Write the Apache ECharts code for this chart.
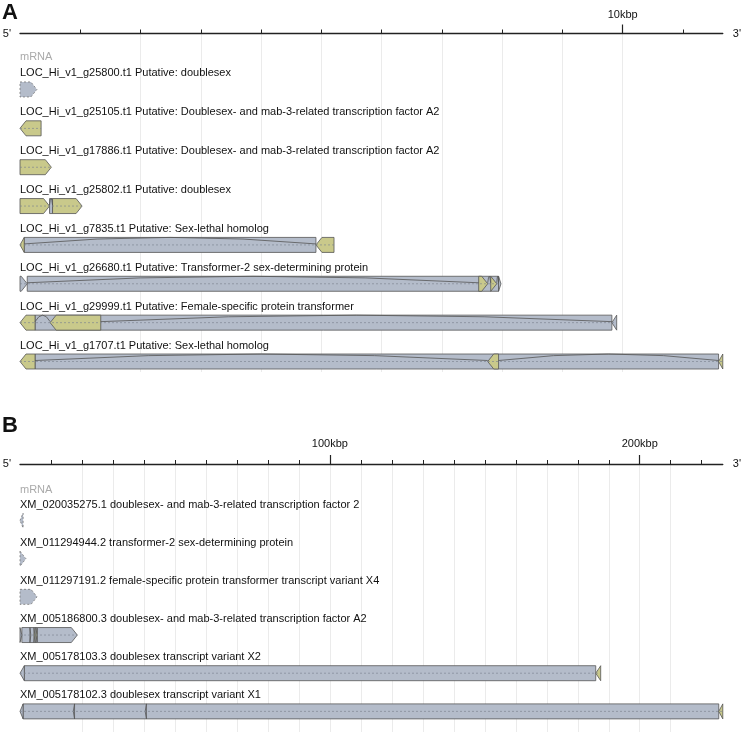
<!DOCTYPE html>
<html><head><meta charset="utf-8">
<script src="https://cdn.jsdelivr.net/npm/echarts@6/dist/echarts.min.js"></script>
<style>html,body{margin:0;padding:0;background:#fff}#c{width:742px;height:741px}</style>
</head><body><div id="c"></div>
<script>
// ---------- Panel A (kbp) ----------
const aIds = ['LOC_Hi_v1_g25800.t1','LOC_Hi_v1_g25105.t1','LOC_Hi_v1_g17886.t1','LOC_Hi_v1_g25802.t1',
  'LOC_Hi_v1_g7835.t1','LOC_Hi_v1_g26680.t1','LOC_Hi_v1_g29999.t1','LOC_Hi_v1_g1707.t1'];
const aDesc = ['Putative: doublesex','Putative: Doublesex- and mab-3-related transcription factor A2',
  'Putative: Doublesex- and mab-3-related transcription factor A2','Putative: doublesex',
  'Putative: Sex-lethal homolog','Putative: Transformer-2 sex-determining protein',
  'Putative: Female-specific protein transformer','Putative: Sex-lethal homolog'];
const aStrand = ['+','-','+','+','-','+','-','-'];
const aExons = [
  [[0,0.28,'nc']],
  [[0,0.35,'cds']],
  [[0,0.52,'cds']],
  [[0,0.49,'cds'],[0.54,1.03,'cds']],
  [[0,0.07,'cds'],[4.91,5.21,'cds']],
  [[0,0.12,'utr'],[7.61,7.76,'cds'],[7.81,7.91,'cds'],[7.94,7.98,'utr']],
  [[0,0.25,'cds'],[0.5,1.34,'cds'],[9.82,9.9,'utr']],
  [[0,0.25,'cds'],[7.76,7.94,'cds'],[11.59,11.66,'cds']]
];
const aMaxKbp = 11.66;
const aMinorTicks = [1,2,3,4,5,6,7,8,9,10,11];
const aMajorTicks = [10];

// ---------- Panel B (kbp) ----------
const bIds = ['XM_020035275.1','XM_011294944.2','XM_011297191.2','XM_005186800.3','XM_005178103.3','XM_005178102.3'];
const bDesc = ['doublesex- and mab-3-related transcription factor 2','transformer-2 sex-determining protein',
  'female-specific protein transformer transcript variant X4','doublesex- and mab-3-related transcription factor A2',
  'doublesex transcript variant X2','doublesex transcript variant X1'];
const bStrand = ['-','+','+','+','-','-'];
const bExons = [
  [[0,1.0,'nc']],
  [[0,1.9,'nc']],
  [[0,5.5,'nc']],
  [[0,0.6,'utr'],[3.2,3.5,'utr'],[4.5,4.8,'cds'],[5.1,5.5,'cds'],[5.6,18.5,'utr']],
  [[0,1.4,'utr'],[185.8,187.4,'cds']],
  [[0,1.0,'utr'],[17.2,17.6,'utr'],[40.4,40.8,'utr'],[225.5,226.8,'cds']]
];
const bMaxKbp = 226.8;
const bMinorTicks = [10,20,30,40,50,60,70,80,90,100,110,120,130,140,150,160,170,180,190,200,210,220];
const bMajorTicks = [100,200];

const FONT = '"Liberation Sans", Arial, Helvetica, sans-serif';
const GRAY = '#b4bcca', GREEN = '#c9c98b', EDGE = '#555';

function makeRender(ids, desc, strand, exons, withArcs) {
  return function (params, api) {
    const i = params.dataIndex;
    const ex = exons[i];
    const yc = api.coord([0, i])[1];
    const h = 7.5;
    const X = k => api.coord([k, i])[0];
    const kids = [];
    if (ex.length > 1) {
      const x1 = X(ex[0][1]), x2 = X(ex[ex.length - 1][0]);
      kids.push({type:'rect', shape:{x:x1, y:yc-h, width:x2-x1, height:2*h},
        style:{fill:GRAY, stroke:EDGE, lineWidth:0.8}});
    }
    ex.forEach(e => {
      const s = X(e[0]), t = X(e[1]);
      const w = t - s, d = Math.min(6, w);
      let pts;
      if (strand[i] === '+') {
        pts = w <= 6 ? [[s,yc-h],[t,yc],[s,yc+h]] : [[s,yc-h],[t-d,yc-h],[t,yc],[t-d,yc+h],[s,yc+h]];
      } else {
        pts = w <= 6 ? [[s,yc],[t,yc-h],[t,yc+h]] : [[s,yc],[s+d,yc-h],[t,yc-h],[t,yc+h],[s+d,yc+h]];
      }
      const nc = e[2] === 'nc';
      kids.push({type:'polygon', shape:{points:pts},
        style:{fill: e[2] === 'cds' ? GREEN : GRAY, stroke: nc ? '#777' : EDGE,
          lineWidth: 0.8, lineDash: nc ? [2,2] : null}});
    });
    if (withArcs) {
      for (let j = 1; j < ex.length; j++) {
        const x1 = X(ex[j-1][1]), x2 = X(ex[j][0]);
        kids.push({type:'bezierCurve', shape:{x1:x1, y1:yc-1, x2:x2, y2:yc-1, cpx1:(x1+x2)/2, cpy1:yc-2*h+1},
          style:{stroke:'#555', lineWidth:0.8, fill:null}});
      }
    }
    if (ex[0][2] !== 'nc') {
      kids.push({type:'line', shape:{x1:X(ex[0][0]), y1:yc, x2:X(ex[ex.length-1][1]), y2:yc},
        style:{stroke:'#7a8290', lineWidth:0.8, lineDash:[2,2], opacity:0.8}});
    }
    kids.push({type:'text', style:{text: ids[i] + ' ' + desc[i], x: X(0), y: yc - 16,
      font: '11px ' + FONT, fill:'#111', verticalAlign:'middle'}});
    return {type:'group', children:kids};
  };
}

function minorAxis(grid, max, ticks) {
  return {gridIndex:grid, type:'value', position:'top', min:0, max:max,
    interval: ticks[0],
    axisLine:{show:true, onZero:false, lineStyle:{color:'#222', width:1.3}},
    axisTick:{show:true, length:4, customValues:ticks, lineStyle:{color:'#222', width:1}},
    axisLabel:{show:false},
    splitLine:{show:true, showMinLine:false, showMaxLine:false, lineStyle:{color:'#ebebeb', width:1}},
    name:"5'", nameLocation:'start', nameGap:9,
    nameTextStyle:{fontFamily:FONT, fontSize:11, color:'#111'}};
}
function majorAxis(grid, max, ticks, margin) {
  return {gridIndex:grid, type:'value', position:'top', min:0, max:max,
    axisLine:{show:false, onZero:false},
    axisTick:{show:true, length:9, customValues:ticks, lineStyle:{color:'#222', width:1.2}},
    axisLabel:{show:true, customValues:ticks, formatter: v => v + 'kbp', margin:margin,
      fontFamily:FONT, fontSize:11, color:'#111'},
    splitLine:{show:false},
    name:"3'", nameLocation:'end', nameGap:10,
    nameTextStyle:{fontFamily:FONT, fontSize:11, color:'#111'}};
}

const chart = echarts.init(document.getElementById('c'), null, {renderer:'canvas'});
chart.setOption({
  animation:false,
  grid:[{left:20, right:19, top:33.5, height:338.5}, {left:20, right:19, top:464, height:268}],
  xAxis:[minorAxis(0, aMaxKbp, aMinorTicks), majorAxis(0, aMaxKbp, aMajorTicks, 13),
         minorAxis(1, bMaxKbp, bMinorTicks), majorAxis(1, bMaxKbp, bMajorTicks, 15)],
  yAxis:[{gridIndex:0, type:'value', inverse:true, min:-1.44, max:7.27, show:false},
         {gridIndex:1, type:'value', inverse:true, min:-1.48, max:5.54, show:false}],
  graphic:[
    {type:'text', x:2, y:13, style:{text:'A', font:'bold 22px ' + FONT, fill:'#111', verticalAlign:'middle'}},
    {type:'text', x:2, y:426, style:{text:'B', font:'bold 22px ' + FONT, fill:'#111', verticalAlign:'middle'}},
    {type:'text', x:20, y:57, style:{text:'mRNA', font:'11px ' + FONT, fill:'#aaa', verticalAlign:'middle'}},
    {type:'text', x:20, y:490, style:{text:'mRNA', font:'11px ' + FONT, fill:'#aaa', verticalAlign:'middle'}}
  ],
  series:[
    {type:'custom', xAxisIndex:0, yAxisIndex:0, clip:false, encode:{x:0, y:1},
      data: aIds.map((_, i) => [0, i]), renderItem: makeRender(aIds, aDesc, aStrand, aExons, true)},
    {type:'custom', xAxisIndex:2, yAxisIndex:1, clip:false, encode:{x:0, y:1},
      data: bIds.map((_, i) => [0, i]), renderItem: makeRender(bIds, bDesc, bStrand, bExons, false)}
  ]
});
</script></body></html>
